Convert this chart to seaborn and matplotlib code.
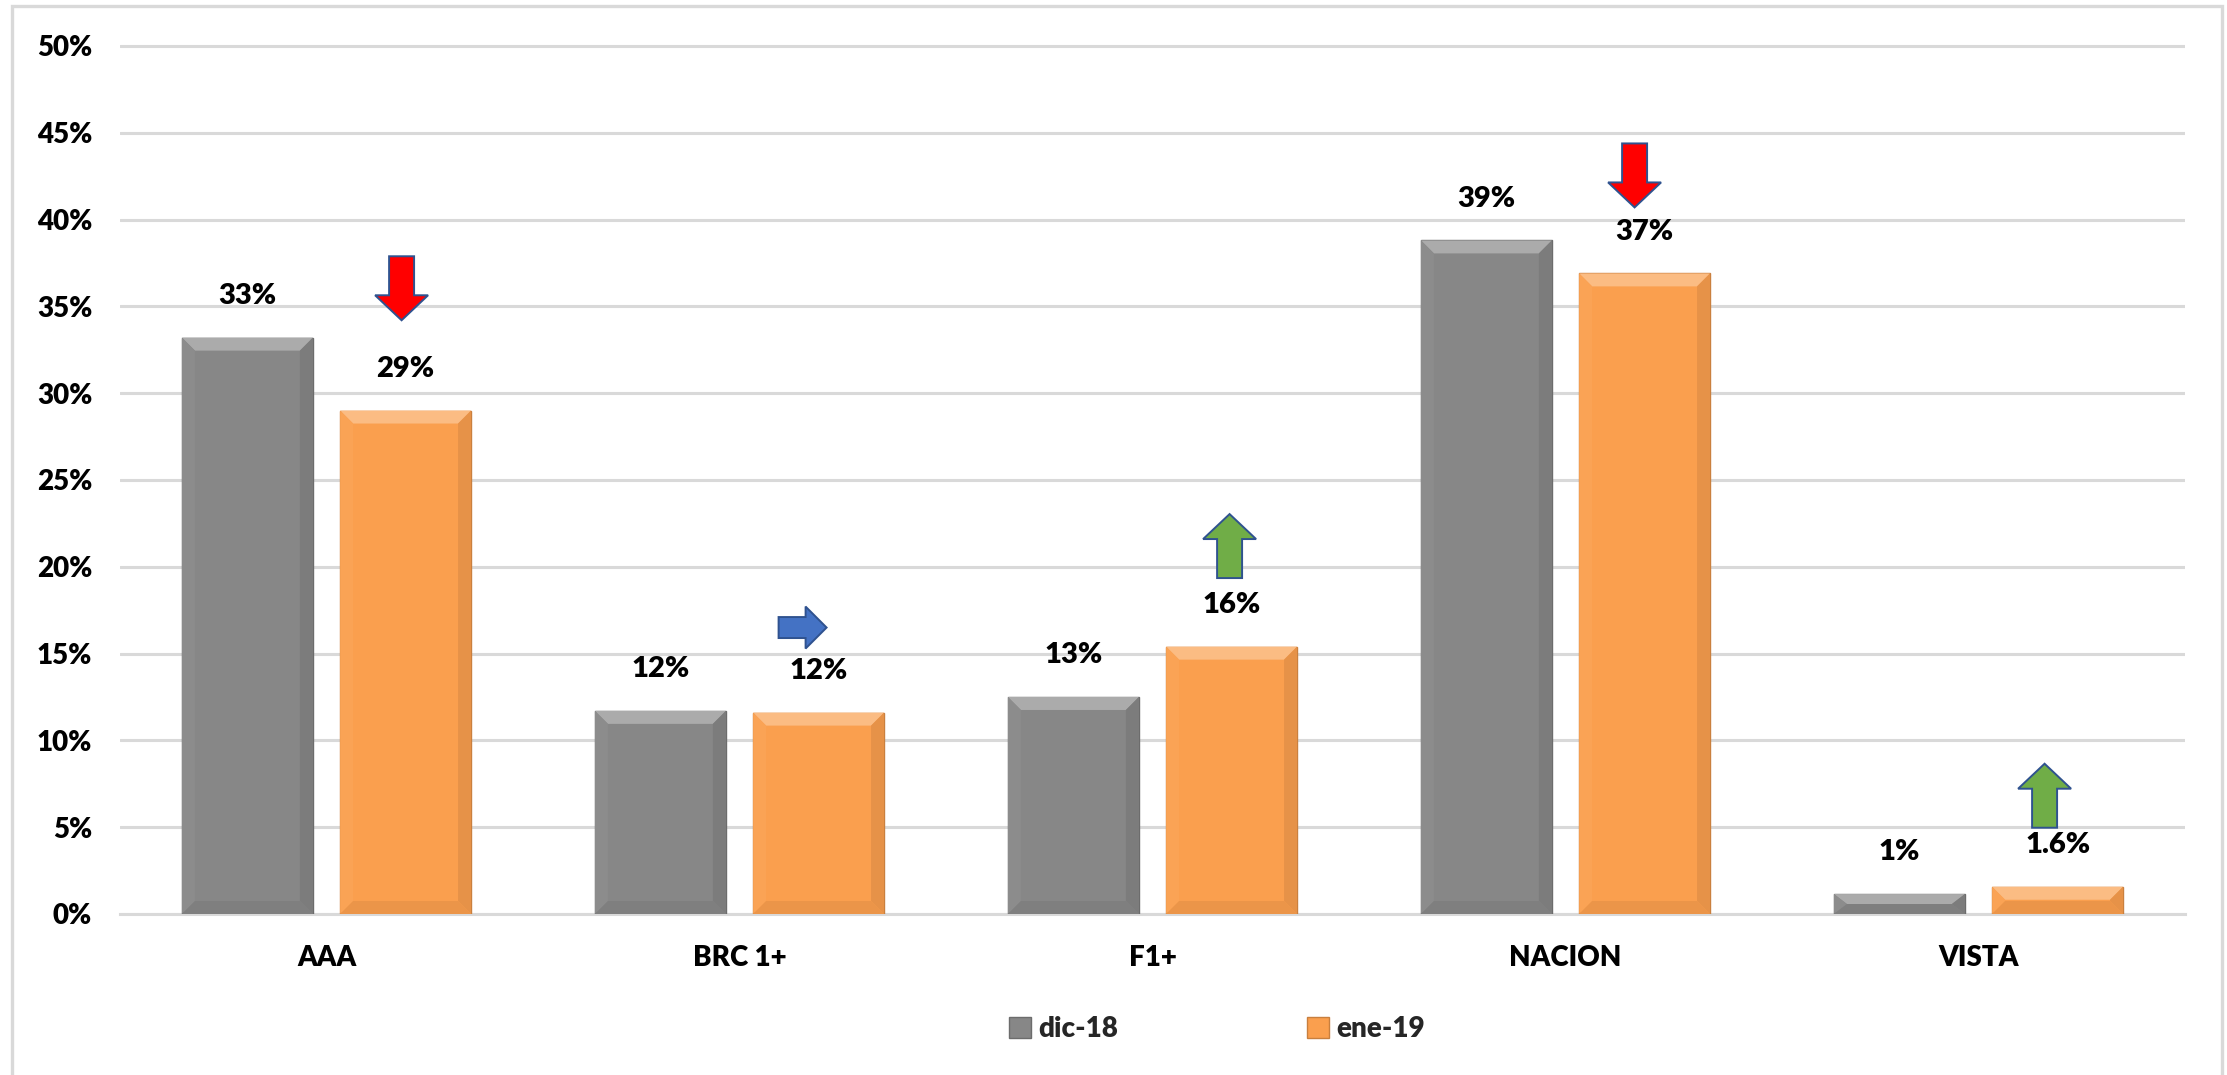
import numpy as np
import pandas as pd
import matplotlib
matplotlib.use("Agg")
import matplotlib.pyplot as plt
from matplotlib.patches import Polygon, Rectangle, FancyArrow, Patch
from matplotlib.colors import to_rgb
import seaborn as sns

# chart data
categories = ["AAA", "BRC 1+", "F1+", "NACION", "VISTA"]
periods = ["dic-18", "ene-19"]
dic_18 = [33.2, 11.7, 12.5, 38.8, 1.15]
ene_19 = [29.0, 11.6, 15.4, 36.9, 1.57]
dic_labels = ["33%", "12%", "13%", "39%", "1%"]
ene_labels = ["29%", "12%", "16%", "37%", "1.6%"]
trend = ["down", "right", "up", "down", "up"]

df = pd.DataFrame({
    "category": categories * 2,
    "period": [periods[0]] * len(categories) + [periods[1]] * len(categories),
    "share": dic_18 + ene_19,
})

sns.set_style("white")
plt.rcParams["font.family"] = ["Lato", "DejaVu Sans"]
W = "heavy"

gray = "#878787"
orange = "#fa9f4e"
grid_c = "#d9d9d9"

fig = plt.figure(figsize=(22.27, 10.75), dpi=100)
ax = fig.add_axes([120 / 2227, 1 - 914 / 1075, (2185 - 120) / 2227, (914 - 42.5) / 1075])

sns.barplot(data=df, x="category", y="share", hue="period", order=categories,
            hue_order=periods, palette=[gray, orange], width=0.766, gap=0.172,
            saturation=1, ax=ax, legend=False, zorder=3)

ax.set_xlim(-0.5, 4.5)
ax.set_ylim(0, 50.2)
ax.set_yticks(np.arange(0, 51, 5))
ax.set_yticklabels([f"{t}%" for t in range(0, 51, 5)])
ax.yaxis.grid(True, color=grid_c, lw=2.2, zorder=0)
ax.set_axisbelow(True)
for s in ["top", "right", "left"]:
    ax.spines[s].set_visible(False)
ax.spines["bottom"].set_color(grid_c)
ax.spines["bottom"].set_linewidth(2.2)
ax.tick_params(axis="both", length=0, labelsize=20, colors="black")
ax.tick_params(axis="y", pad=20)
ax.tick_params(axis="x", pad=22)
ax.set_xlabel("")
ax.set_ylabel("")
for t in ax.get_xticklabels() + ax.get_yticklabels():
    t.set_fontweight(W)


def mix(c, other, f):
    c = np.array(to_rgb(c))
    o = np.array(to_rgb(other))
    return tuple(c * (1 - f) + o * f)


# bevel look on every bar
px_x = 1 / 413.0
px_y = 1 / 17.36
for container, base in zip(ax.containers, [gray, orange]):
    for bar in container:
        x0, w, h = bar.get_x(), bar.get_width(), bar.get_height()
        bar.set_edgecolor(mix(base, "black", 0.2))
        bar.set_linewidth(1)
        dx = 13 * px_x
        dy = min(13 * px_y, h / 2)
        x1 = x0 + w
        faces = [
            ([(x0, h), (x1, h), (x1 - dx, h - dy), (x0 + dx, h - dy)], mix(base, "white", 0.3)),
            ([(x0, 0), (x0, h), (x0 + dx, h - dy), (x0 + dx, dy)], mix(base, "white", 0.04)),
            ([(x1, 0), (x1, h), (x1 - dx, h - dy), (x1 - dx, dy)], mix(base, "black", 0.08)),
            ([(x0, 0), (x1, 0), (x1 - dx, dy), (x0 + dx, dy)], mix(base, "black", 0.06)),
        ]
        for pts, col in faces:
            ax.add_patch(Polygon(pts, closed=True, facecolor=col, edgecolor="none", zorder=4))

# value labels
for container, labels, vals in zip(ax.containers, [dic_labels, ene_labels], [dic_18, ene_19]):
    for bar, lab, v in zip(container, labels, vals):
        ax.text(bar.get_x() + bar.get_width() / 2, v + 2.4, lab, ha="center", va="center",
                fontsize=21, fontweight=W, color="black", zorder=6)

# trend arrows above the ene-19 bars
arrow_gap = [5.2, 4.9, 3.95, 3.8, 3.4]
arrow_shift = [-4, -16, -2, -10, -13]
arrow_col = {"down": "#ff0000", "up": "#70ad47", "right": "#4472c4"}
for bar, v, d, g, sh in zip(ax.containers[1], ene_19, trend, arrow_gap, arrow_shift):
    xc = bar.get_x() + bar.get_width() / 2 + sh * px_x
    yb = v + g
    if d == "right":
        arr = FancyArrow(xc - 24 * px_x, yb, 48 * px_x, 0, width=21 * px_y,
                         head_width=42 * px_y, head_length=21 * px_x,
                         length_includes_head=True)
    elif d == "up":
        arr = FancyArrow(xc, yb, 0, 64 * px_y, width=25 * px_x,
                         head_width=53 * px_x, head_length=25 * px_y,
                         length_includes_head=True)
    else:
        arr = FancyArrow(xc, yb + 64 * px_y, 0, -64 * px_y, width=25 * px_x,
                         head_width=53 * px_x, head_length=25 * px_y,
                         length_includes_head=True)
    arr.set_facecolor(arrow_col[d])
    arr.set_edgecolor("#2f528f")
    arr.set_linewidth(1.4)
    arr.set_zorder(7)
    arr.set_clip_on(False)
    ax.add_patch(arr)

# legend
handles = [Patch(facecolor=gray, edgecolor=mix(gray, "black", 0.2)),
           Patch(facecolor=orange, edgecolor=mix(orange, "black", 0.2))]
fig.legend(handles, periods, loc="center", bbox_to_anchor=(1217 / 2227, 1 - 1029 / 1075),
           ncol=2, frameon=False, handlelength=0.8, handleheight=0.8,
           handletextpad=0.25, columnspacing=6.8, prop={"weight": W, "size": 20})

# outer chart frame
fig.add_artist(Rectangle((12 / 2227, -0.02), (2222 - 12) / 2227, 1.02 - 6 / 1075,
                         transform=fig.transFigure, fill=False, edgecolor=grid_c, lw=2.4))

fig.savefig("out.png", dpi=100)
